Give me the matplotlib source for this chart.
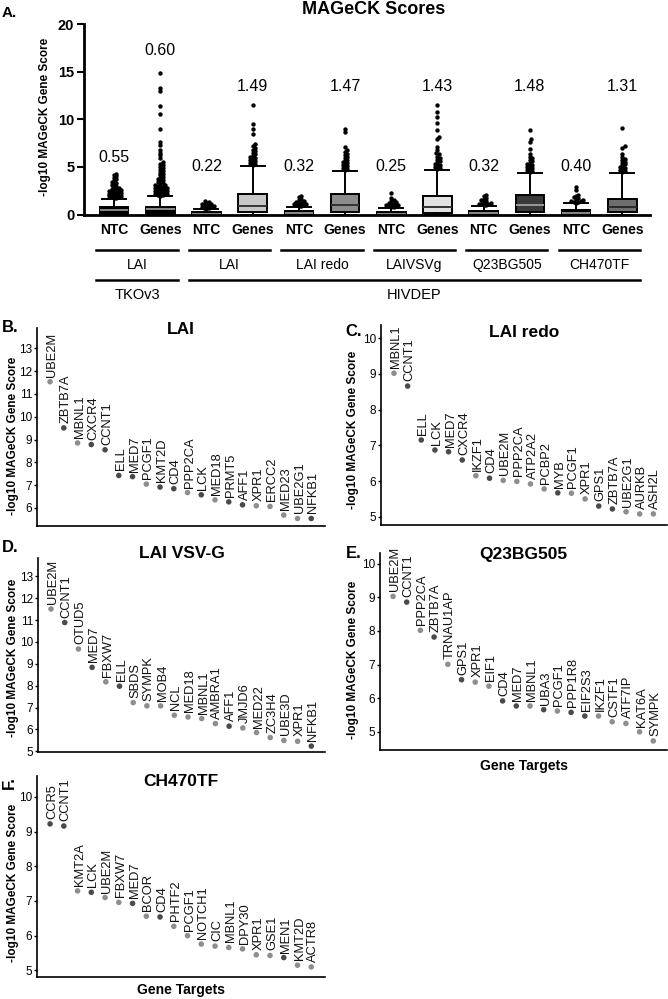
import matplotlib
matplotlib.use('Agg')
import matplotlib.pyplot as plt
import matplotlib.transforms as mtransforms

plt.rcParams['font.family'] = ['Liberation Sans', 'DejaVu Sans']

# ---- panel A data ----
box_names = ['NTC', 'Genes'] * 6
box_q1 = [0.0, 0.05, 0.0, 0.28, 0.0, 0.3, 0.0, 0.2, 0.0, 0.3, 0.0, 0.25]
box_med = [0.45, 0.55, 0.1, 0.9, 0.12, 1.0, 0.1, 0.77, 0.15, 1.0, 0.2, 0.77]
box_q3 = [0.75, 0.8, 0.25, 2.1, 0.35, 2.1, 0.28, 1.96, 0.37, 2.0, 0.5, 1.6]
box_whishi = [1.6, 1.9, 0.6, 5.1, 0.8, 4.6, 0.7, 4.7, 0.9, 4.4, 1.2, 4.4]
box_means = ['0.55', '0.60', '0.22', '1.49', '0.32', '1.47',
             '0.25', '1.43', '0.32', '1.48', '0.40', '1.31']
box_fliers = [
    [1.7, 1.75, 1.8, 1.85, 1.9, 1.95, 2.0, 2.05, 2.1, 2.15, 2.2, 2.25, 2.3, 2.35,
     2.4, 2.45, 2.5, 2.55, 2.6, 2.65, 2.7, 2.8, 2.9, 3.0, 3.1, 3.2, 3.3, 3.4,
     3.55, 3.7, 3.85, 4.0, 4.15, 4.3],
    [1.95, 2.0, 2.05, 2.1, 2.15, 2.2, 2.25, 2.3, 2.35, 2.4, 2.45, 2.5, 2.55, 2.6,
     2.65, 2.7, 2.75, 2.8, 2.85, 2.9, 3.0, 3.05, 3.1, 3.2, 3.3, 3.4, 3.5, 3.6,
     3.7, 3.8, 3.95, 4.1, 4.25, 4.4, 4.55, 4.7, 4.85, 5.0, 5.15, 5.3, 5.5, 5.9,
     6.2, 6.5, 6.8, 7.3, 7.6, 9.0, 10.6, 11.4, 13.0, 13.3, 14.85],
    [0.6, 0.65, 0.7, 0.75, 0.8, 0.85, 0.9, 0.95, 1.0, 1.05, 1.1, 1.2, 1.3, 1.45],
    [5.2, 5.3, 5.4, 5.5, 5.6, 5.7, 5.8, 5.9, 6.0, 6.15, 6.3, 6.5, 6.7, 6.8,
     7.0, 7.2, 7.4, 8.5, 9.0, 9.5, 11.5],
    [0.85, 0.9, 0.95, 1.0, 1.05, 1.1, 1.15, 1.2, 1.3, 1.4, 1.5, 1.65, 1.8, 1.95],
    [4.7, 4.8, 4.9, 5.0, 5.1, 5.2, 5.3, 5.4, 5.5, 5.6, 5.75, 5.9, 6.05, 6.2,
     6.4, 6.6, 6.8, 7.1, 8.7, 9.0],
    [0.75, 0.8, 0.85, 0.9, 0.95, 1.0, 1.05, 1.1, 1.2, 1.3, 1.4, 1.55, 1.7, 2.3],
    [4.8, 4.9, 5.0, 5.1, 5.2, 5.3, 5.45, 5.6, 5.75, 5.9, 6.05, 6.3, 6.5, 6.75,
     7.1, 7.9, 8.15, 8.9, 9.6, 10.2, 10.8, 11.5],
    [0.95, 1.0, 1.05, 1.1, 1.15, 1.2, 1.3, 1.4, 1.5, 1.6, 1.75, 1.9, 2.05],
    [4.5, 4.6, 4.7, 4.8, 4.9, 5.0, 5.1, 5.2, 5.3, 5.45, 5.6, 5.75, 5.9, 6.05,
     6.4, 6.9, 7.65, 7.9, 8.9],
    [1.25, 1.3, 1.35, 1.4, 1.45, 1.5, 1.6, 1.7, 1.8, 1.9, 2.0, 2.6, 2.9],
    [4.5, 4.6, 4.7, 4.8, 4.9, 5.0, 5.1, 5.25, 5.4, 5.55, 5.7, 5.85, 6.05, 6.4,
     7.0, 7.2, 9.1],
]
screen_names = ['LAI', 'LAI', 'LAI redo', 'LAIVSVg', 'Q23BG505', 'CH470TF']
library_names = ['TKOv3', 'HIVDEP']
library_spans = [(1, 2), (3, 12)]

# ---- panels B-F data ----
b_genes = ['UBE2M', 'ZBTB7A', 'MBNL1', 'CXCR4', 'CCNT1', 'ELL', 'MED7', 'PCGF1',
           'KMT2D', 'CD4', 'PPP2CA', 'LCK', 'MED18', 'PRMT5', 'AFF1', 'XPR1',
           'ERCC2', 'MED23', 'UBE2G1', 'NFKB1']
b_scores = [11.54, 9.51, 8.85, 8.78, 8.55, 7.42, 7.37, 7.04, 6.91, 6.84, 6.67,
            6.57, 6.35, 6.26, 6.13, 6.09, 6.06, 5.68, 5.53, 5.53]
b_dark = [0, 1, 0, 1, 1, 1, 1, 0, 1, 1, 0, 1, 0, 1, 1, 0, 0, 0, 0, 1]

c_genes = ['MBNL1', 'CCNT1', 'ELL', 'LCK', 'MED7', 'CXCR4', 'IKZF1', 'CD4',
           'UBE2M', 'PPP2CA', 'ATP2A2', 'PCBP2', 'MYB', 'PCGF1', 'XPR1', 'GPS1',
           'ZBTB7A', 'UBE2G1', 'AURKB', 'ASH2L']
c_scores = [9.02, 8.66, 7.15, 6.87, 6.82, 6.59, 6.15, 6.08, 6.02, 5.99, 5.92,
            5.78, 5.67, 5.66, 5.50, 5.30, 5.22, 5.14, 5.08, 5.08]
c_dark = [0, 1, 1, 1, 1, 1, 0, 1, 0, 0, 0, 0, 1, 0, 0, 1, 1, 0, 0, 0]

d_genes = ['UBE2M', 'CCNT1', 'OTUD5', 'MED7', 'FBXW7', 'ELL', 'SBDS', 'SYMPK',
           'MOB4', 'NCL', 'MED18', 'MBNL1', 'AMBRA1', 'AFF1', 'JMJD6', 'MED22',
           'ZC3H4', 'UBE3D', 'XPR1', 'NFKB1']
d_scores = [11.51, 10.89, 9.68, 8.84, 8.18, 7.98, 7.23, 7.08, 7.08, 6.65, 6.57,
            6.50, 6.27, 6.15, 6.07, 5.86, 5.63, 5.50, 5.46, 5.24]
d_dark = [0, 1, 0, 1, 0, 1, 0, 0, 0, 0, 0, 0, 0, 1, 0, 0, 0, 0, 0, 1]

e_genes = ['UBE2M', 'CCNT1', 'PPP2CA', 'ZBTB7A', 'TRNAU1AP', 'GPS1', 'XPR1',
           'EIF1', 'CD4', 'MED7', 'MBNL1', 'UBA3', 'PCGF1', 'PPP1R8', 'EIF2S3',
           'IKZF1', 'CSTF1', 'ATF7IP', 'KAT6A', 'SYMPK']
e_scores = [9.03, 8.86, 8.02, 7.82, 7.01, 6.55, 6.48, 6.36, 5.92, 5.77, 5.77,
            5.66, 5.62, 5.58, 5.47, 5.47, 5.30, 5.25, 5.00, 4.73]
e_dark = [0, 1, 0, 1, 0, 1, 0, 0, 1, 1, 0, 1, 0, 1, 1, 0, 0, 0, 0, 0]

f_genes = ['CCR5', 'CCNT1', 'KMT2A', 'LCK', 'UBE2M', 'FBXW7', 'MED7', 'BCOR',
           'CD4', 'PHTF2', 'PCGF1', 'NOTCH1', 'CIC', 'MBNL1', 'DPY30', 'XPR1',
           'GSE1', 'MEN1', 'KMT2D', 'ACTR8']
f_scores = [9.22, 9.16, 7.29, 7.25, 7.10, 6.96, 6.93, 6.56, 6.54, 6.27, 6.00,
            5.76, 5.70, 5.66, 5.62, 5.45, 5.43, 5.37, 5.15, 5.10]
f_dark = [1, 1, 0, 1, 0, 0, 1, 0, 1, 0, 0, 0, 0, 0, 0, 0, 0, 1, 0, 0]

W, H = 668, 999
fig = plt.figure(figsize=(W / 100, H / 100), dpi=100)


def rect(l, t, r, b):
    return [l / W, 1 - b / H, (r - l) / W, (b - t) / H]


def ftext(x, y, s, **kw):
    fig.text(x / W, 1 - y / H, s, **kw)


def swarm(vals, xs, ys, diam):
    # simple beeswarm: offsets so dots do not pile up (px scales given)
    placed = []
    offs = []
    cands = [0.0]
    for k in range(1, 30):
        cands += [k * diam * 0.5, -k * diam * 0.5]
    for v in sorted(vals):
        y = v * ys
        for c in cands:
            if all((c - px) ** 2 + (y - py) ** 2 >= diam ** 2 for px, py in placed):
                break
        placed.append((c, y))
        offs.append(c / xs)
    return sorted(vals), offs


# ================= panel A =================
ax = fig.add_axes(rect(84, 24, 650, 214.5))
pos = list(range(1, 13))
face = ['black', 'black', 'black', '#c8c8c8', 'black', '#8c8c8c',
        'black', '#e2e2e2', 'black', '#3a3a3a', 'black', '#6e6e6e']
medc = ['#8a8a8a', '#8a8a8a', '#8a8a8a', '#333333', '#8a8a8a', '#333333',
        '#8a8a8a', '#333333', '#8a8a8a', '#9a9a9a', '#8a8a8a', '#2a2a2a']
stats = []
for i in range(12):
    stats.append(dict(med=box_med[i], q1=box_q1[i], q3=box_q3[i],
                      whislo=0.0, whishi=box_whishi[i], fliers=[]))
bp = ax.bxp(stats, positions=pos, widths=0.62, patch_artist=True,
            showfliers=False, capwidths=0.52,
            boxprops=dict(edgecolor='black', linewidth=1.4),
            whiskerprops=dict(color='black', linewidth=1.4),
            capprops=dict(color='black', linewidth=1.4),
            medianprops=dict(linewidth=1.4))
for i, b in enumerate(bp['boxes']):
    b.set_facecolor(face[i])
    bp['medians'][i].set_color(medc[i])

xs_px = 566 / 12.25
ys_px = 190.5 / 20
for i in range(12):
    v, o = swarm(box_fliers[i], xs_px, ys_px, 2.4)
    ax.scatter([pos[i] + d for d in o], v, s=10, color='black', lw=0,
               clip_on=False, zorder=3)

label_y = [6.0, 17.2, 5.0, 13.4, 5.0, 13.4, 5.0, 13.4, 5.0, 13.4, 5.0, 13.4]
for i in range(12):
    ax.text(pos[i], label_y[i], box_means[i], ha='center', va='center',
            fontsize=11.5)

ax.set_xlim(0.35, 12.6)
ax.set_ylim(0, 20)
ax.set_yticks([0, 5, 10, 15, 20])
ax.set_xticks(pos)
ax.set_xticklabels(box_names, fontweight='bold', fontsize=10)
for t in ax.get_yticklabels():
    t.set_fontweight('bold')
ax.tick_params(axis='y', length=5, width=1.5, labelsize=10.5, pad=2)
ax.tick_params(axis='x', length=0, pad=6)
for s in ['top', 'right']:
    ax.spines[s].set_visible(False)
for s in ['left', 'bottom']:
    ax.spines[s].set_linewidth(2)

tr = mtransforms.blended_transform_factory(ax.transData, fig.transFigure)
for k, name in enumerate(screen_names):
    a, b = pos[2 * k] - 0.38, pos[2 * k + 1] + 0.38
    ax.plot([a, b], [1 - 250 / H] * 2, color='black', lw=1.8,
            transform=tr, clip_on=False)
    ax.text((a + b) / 2, 1 - 265 / H, name, transform=tr, ha='center',
            va='center', fontsize=10)
for name, (p0, p1) in zip(library_names, library_spans):
    a, b = p0 - 0.38, p1 + 0.38
    ax.plot([a, b], [1 - 279.5 / H] * 2, color='black', lw=1.8,
            transform=tr, clip_on=False)
    ax.text((a + b) / 2, 1 - 295 / H, name, transform=tr, ha='center',
            va='center', fontsize=10.5)

ftext(374, 9, 'MAGeCK Scores', ha='center', va='center', fontsize=13,
      fontweight='bold')
ftext(2, 13, 'A.', ha='left', va='center', fontsize=11, fontweight='bold')
ftext(45, 117, '-log10 MAGeCK Gene Score', ha='center', va='center',
      rotation=90, fontsize=8.5, fontweight='bold')

# ================= panels B-F =================
panels = [
    dict(genes=b_genes, scores=b_scores, dark=b_dark, box=(37, 328, 325, 526),
         ylim=(5.2, 13.9), ticks=range(6, 14), title='LAI', ty=329,
         letter='B.', lx=2, ly=328, lrot=0, yl=(13, 436), xlab=None),
    dict(genes=c_genes, scores=c_scores, dark=c_dark, box=(381, 325, 667, 525),
         ylim=(4.77, 10.37), ticks=range(5, 11), title='LAI redo', ty=333,
         letter='C.', lx=345, ly=331, lrot=0, yl=(353, 430), xlab=None),
    dict(genes=d_genes, scores=d_scores, dark=d_dark, box=(38, 558, 325, 752),
         ylim=(4.97, 13.84), ticks=range(5, 14), title='LAI VSV-G', ty=553,
         letter='D.', lx=2, ly=547, lrot=0, yl=(13, 658), xlab=None),
    dict(genes=e_genes, scores=e_scores, dark=e_dark, box=(380, 553, 667, 750),
         ylim=(4.46, 10.32), ticks=range(5, 11), title='Q23BG505', ty=555,
         letter='E.', lx=346, ly=554, lrot=0, yl=(353, 660), xlab=766),
    dict(genes=f_genes, scores=f_scores, dark=f_dark, box=(37, 776, 325, 977),
         ylim=(4.81, 10.6), ticks=range(5, 11), title='CH470TF', ty=782,
         letter='F.', lx=2, ly=783, lrot=90, yl=(13, 883), xlab=990),
]

for p in panels:
    l, t, r, b = p['box']
    ax = fig.add_axes(rect(l, t, r, b))
    x = list(range(1, len(p['genes']) + 1))
    cols = ['#4a4a4a' if d else '#8e8e8e' for d in p['dark']]
    ax.scatter(x, p['scores'], s=16, c=cols, lw=0, zorder=3, clip_on=False)
    for xi, yi, g in zip(x, p['scores'], p['genes']):
        ax.annotate(g, (xi, yi), xytext=(2, 5), textcoords='offset pixels',
                    rotation=90, ha='center', va='bottom', fontsize=9.3,
                    color='#111111')
    ax.set_xlim(0.05, 21.0)
    ax.set_ylim(*p['ylim'])
    ax.set_yticks(list(p['ticks']))
    ax.set_xticks([])
    ax.tick_params(axis='y', length=2.5, width=1, labelsize=8.5, pad=1)
    for s in ['top', 'right']:
        ax.spines[s].set_visible(False)
    for s in ['left', 'bottom']:
        ax.spines[s].set_linewidth(1.2)
    ftext((l + r) / 2, p['ty'], p['title'], ha='center', va='center',
          fontsize=12.5, fontweight='bold')
    ftext(p['lx'], p['ly'], p['letter'], ha='left', va='center',
          fontsize=12, fontweight='bold', rotation=p['lrot'])
    ftext(p['yl'][0], p['yl'][1], '-log10 MAGeCK Gene Score', ha='center',
          va='center', rotation=90, fontsize=8.5, fontweight='bold')
    if p['xlab']:
        ftext((l + r) / 2, p['xlab'], 'Gene Targets', ha='center',
              va='center', fontsize=10, fontweight='bold')

fig.savefig('out.png', dpi=100)
